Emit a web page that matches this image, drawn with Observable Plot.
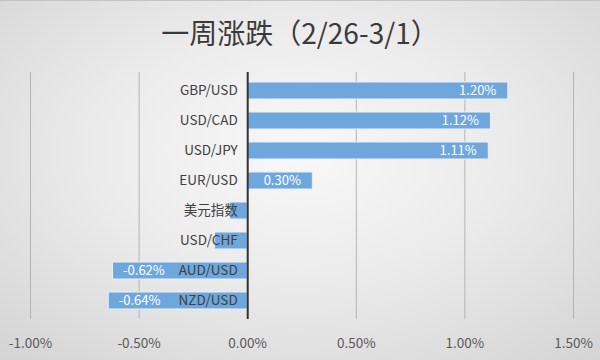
<!DOCTYPE html>
<html>
<head>
<meta charset="utf-8">
<script src="https://cdn.jsdelivr.net/npm/d3@7"></script>
<script src="https://cdn.jsdelivr.net/npm/@observablehq/plot@0.6"></script>
<style>
  html, body { margin: 0; padding: 0; }
  #chart {
    width: 600px; height: 360px; position: relative; overflow: hidden;
    background: radial-gradient(ellipse 75% 80% at 50% 42%, #f8f8f8 0%, #ebebeb 45%, #d3d3d3 100%);
    border-top: 1px solid #c4c4c4; box-sizing: border-box;
    font-family: "Noto Sans CJK SC", "Noto Sans", sans-serif;
  }
  #title {
    height: 59px; line-height: 62px; text-align: center;
    font-size: 28px; color: #3a3a3a; font-weight: 400;
  }
  #chart svg { display: block; background: transparent; }
</style>
</head>
<body>
<div id="chart"><div id="title">一周涨跌（2/26-3/1）</div></div>
<script>
const categories = ["GBP/USD", "USD/CAD", "USD/JPY", "EUR/USD", "美元指数", "USD/CHF", "AUD/USD", "NZD/USD"];
const values = [1.20, 1.12, 1.11, 0.30, -0.08, -0.15, -0.62, -0.64];
const showLabel = [true, true, true, true, false, false, true, true];
const xTicks = [-1, -0.5, 0, 0.5, 1, 1.5];

const data = categories.map((c, i) => ({cat: c, v: values[i], show: showLabel[i]}));
const fmt = d => d.toFixed(2) + "%";

const plot = Plot.plot({
  width: 600,
  height: 300,
  marginTop: 12,
  marginBottom: 41,
  marginLeft: 30,
  marginRight: 27,
  style: {background: "transparent", fontFamily: "'Noto Sans CJK SC', 'Noto Sans', sans-serif"},
  x: {domain: [-1, 1.5], ticks: xTicks, tickFormat: fmt, label: null},
  y: {domain: categories, paddingInner: 0.42, paddingOuter: 0.21, label: null, axis: null},
  marks: [
    Plot.gridX(xTicks, {stroke: "#b4b4b4", strokeOpacity: 1, strokeWidth: 1}),
    Plot.axisX({ticks: xTicks, tickFormat: fmt, tickSize: 0, tickPadding: 19, fontSize: 13.5, fill: "#595959", label: null}),
    Plot.barX(data, {x: "v", y: "cat", fill: "#6fa7dc", stroke: "#eaf2fa", strokeWidth: 1}),
    Plot.ruleX([0], {stroke: "#333333", strokeWidth: 2}),
    Plot.text(data, {x: 0, y: "cat", text: "cat", textAnchor: "end", dx: -10, fontSize: 13.5, fill: "#404040"}),
    Plot.text(data.filter(d => d.show && d.v > 0), {x: "v", y: "cat", text: d => fmt(d.v), textAnchor: "end", dx: -12, fontSize: 13, fill: "#ffffff"}),
    Plot.text(data.filter(d => d.show && d.v < 0), {x: "v", y: "cat", text: d => fmt(d.v), textAnchor: "start", dx: 10, fontSize: 13, fill: "#ffffff"})
  ]
});
document.getElementById("chart").appendChild(plot);
</script>
</body>
</html>
